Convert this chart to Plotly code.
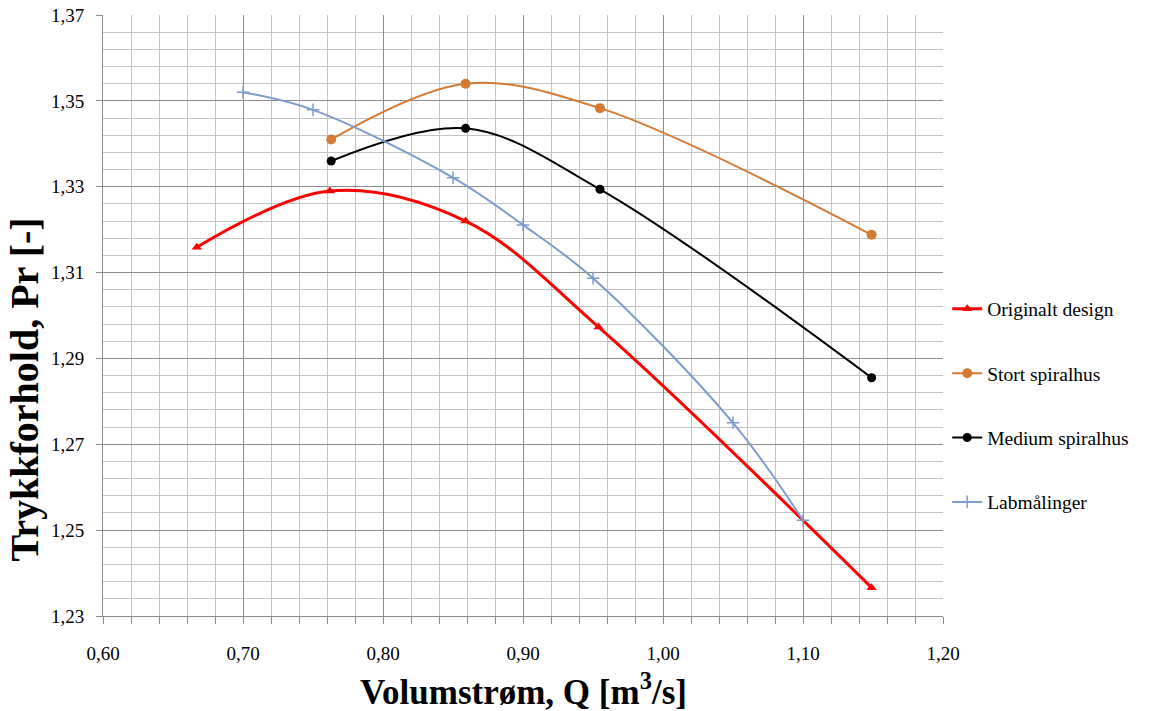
import plotly.graph_objects as go

# Data
orig_x = [0.667, 0.762, 0.859, 0.954, 1.149]
orig_y = [1.3159, 1.3290, 1.3220, 1.2973, 1.2366]

stort_x = [0.763, 0.859, 0.955, 1.149]
stort_y = [1.3410, 1.3540, 1.3483, 1.3188]

medium_x = [0.763, 0.859, 0.955, 1.149]
medium_y = [1.3360, 1.3436, 1.3294, 1.2855]

lab_x = [0.70, 0.75, 0.85, 0.90, 0.95, 1.05, 1.10]
lab_y = [1.3520, 1.3479, 1.3321, 1.3211, 1.3087, 1.2750, 1.2523]

names = ["Originalt design", "Stort spiralhus", "Medium spiralhus", "Labmålinger"]
y_ticks = [1.23, 1.25, 1.27, 1.29, 1.31, 1.33, 1.35, 1.37]
x_ticks = [0.60, 0.70, 0.80, 0.90, 1.00, 1.10, 1.20]

FONT = "Liberation Serif, Times New Roman, serif"

fig = go.Figure()
fig.add_trace(go.Scatter(
    x=orig_x, y=orig_y, name=names[0], legendgroup="a",
    mode="lines+markers", line=dict(color="#FF0000", width=3, shape="spline", smoothing=1),
    marker=dict(symbol="triangle-up", size=9, color="#FF0000")))
fig.add_trace(go.Scatter(
    x=stort_x, y=stort_y, name=names[1], legendgroup="b",
    mode="lines+markers", line=dict(color="#D57A33", width=2, shape="spline", smoothing=1),
    marker=dict(symbol="circle", size=10, color="#D57A33")))
fig.add_trace(go.Scatter(
    x=medium_x, y=medium_y, name=names[2], legendgroup="c",
    mode="lines+markers", line=dict(color="#000000", width=2, shape="spline", smoothing=1),
    marker=dict(symbol="circle", size=9, color="#000000")))
fig.add_trace(go.Scatter(
    x=lab_x, y=lab_y, name=names[3], legendgroup="d",
    mode="lines+markers", line=dict(color="#7E9BCB", width=2, shape="spline", smoothing=1),
    marker=dict(symbol="cross-thin-open", size=9, color="#7E9BCB",
                line=dict(width=1.5, color="#7E9BCB"))))

fig.update_layout(
    width=1164, height=711,
    margin=dict(l=103, r=221, t=15, b=95),
    paper_bgcolor="white", plot_bgcolor="white",
    separators=", ",
    font=dict(family=FONT, color="black", size=19),
    showlegend=True,
    legend=dict(x=1.005, xanchor="left", y=0.543, yanchor="top",
                font=dict(family=FONT, size=19.5, color="black"),
                tracegroupgap=36, bgcolor="rgba(0,0,0,0)"),
    annotations=[
        dict(text="<b>Trykkforhold, Pr [-]</b>", xref="paper", yref="paper",
             x=-0.094, y=0.377, xanchor="center", yanchor="middle", textangle=-90,
             showarrow=False, font=dict(family=FONT, size=40, color="black")),
        dict(text="<b>Volumstrøm, Q [m<sup>3</sup>/s]</b>", xref="paper", yref="paper",
             x=0.5, y=-0.122, xanchor="center", yanchor="middle",
             showarrow=False, font=dict(family=FONT, size=35, color="black")),
    ],
)

fig.update_xaxes(
    range=[0.6, 1.2], tickvals=x_ticks, tickformat=".2f", automargin=False,
    showgrid=True, gridcolor="#8C8C8C", gridwidth=1,
    minor=dict(dtick=0.02, showgrid=True, gridcolor="#C4C4C4", ticks="outside",
               ticklen=7, tickcolor="#8C8C8C"),
    ticks="outside", ticklen=7, tickcolor="#8C8C8C",
    showline=True, linecolor="#8C8C8C", linewidth=1,
    ticklabelstandoff=13, zeroline=False,
    tickfont=dict(family=FONT, size=19, color="black"),
)
fig.update_yaxes(
    range=[1.23, 1.37], tickvals=y_ticks, tickformat=".2f", automargin=False,
    showgrid=True, gridcolor="#8C8C8C", gridwidth=1,
    minor=dict(dtick=0.004, tick0=1.23, showgrid=True, gridcolor="#C4C4C4"),
    ticks="outside", ticklen=6, tickcolor="#8C8C8C",
    showline=True, linecolor="#8C8C8C", linewidth=1,
    ticklabelstandoff=8, zeroline=False,
    tickfont=dict(family=FONT, size=19, color="black"),
)

fig.write_html("out.html")
